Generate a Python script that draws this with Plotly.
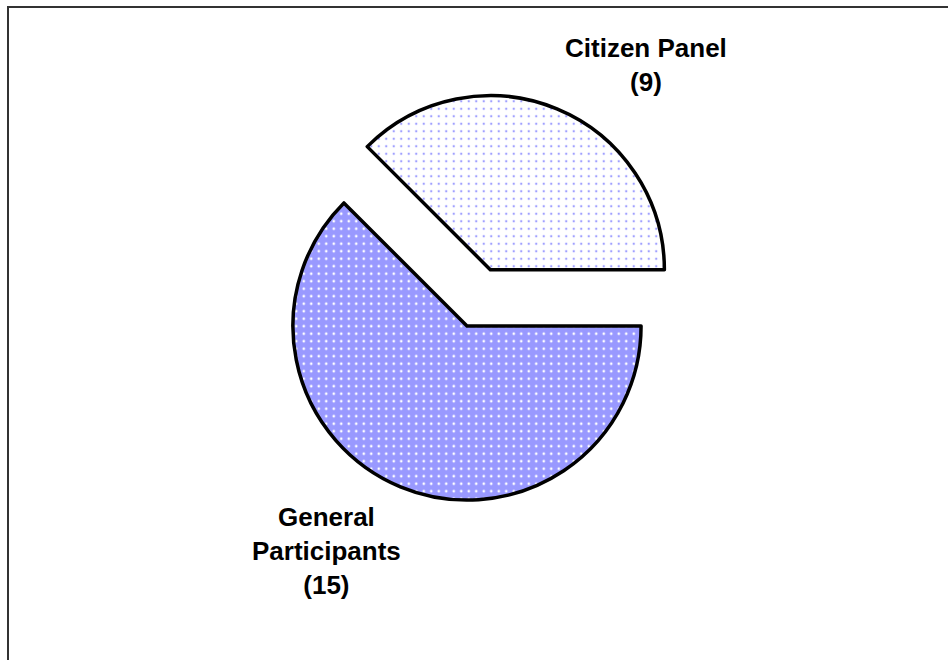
import plotly.graph_objects as go

labels = ["Citizen Panel", "General Participants"]
values = [9, 15]
label_text = ["Citizen Panel<br>(9)", "General<br>Participants<br>(15)"]
fill_colors = ["#ffffff", "#9999ff"]
dot_colors = ["#a0a0ff", "#ffffff"]
pulls = [0.35, 0]

W, H = 948, 660

fig = go.Figure()
fig.add_trace(go.Pie(
    labels=labels,
    values=values,
    sort=False,
    direction="counterclockwise",
    rotation=-45,
    pull=pulls,
    textinfo="none",
    hoverinfo="label+value",
    showlegend=False,
    marker=dict(
        colors=fill_colors,
        line=dict(color="#000000", width=3.5),
        pattern=dict(shape=[".", "."], fgcolor=dot_colors, bgcolor=fill_colors,
                     size=7.5, solidity=[0.08, 0.1], fillmode="replace"),
    ),
    domain=dict(x=[0, 934 / W], y=[1 - 561 / H, 1 - 91 / H]),
))

font = dict(family="Liberation Sans, Arial, sans-serif", size=26, color="#000000")
fig.add_annotation(text="<b>" + label_text[0] + "</b>", x=646 / W, y=1 - 65 / H,
                   xref="paper", yref="paper", showarrow=False, font=font,
                   xanchor="center", yanchor="middle", align="center")
fig.add_annotation(text="<b>" + label_text[1] + "</b>", x=326 / W, y=1 - 551 / H,
                   xref="paper", yref="paper", showarrow=False, font=font,
                   xanchor="center", yanchor="middle", align="center")

fig.add_shape(type="rect", xref="paper", yref="paper",
              x0=8 / W, x1=1.2, y0=-0.2, y1=1 - 7 / H,
              line=dict(color="#333333", width=2))

fig.update_layout(
    width=W, height=H,
    margin=dict(l=0, r=0, t=0, b=0),
    paper_bgcolor="#ffffff",
    plot_bgcolor="#ffffff",
)

fig.write_html("out.html")
